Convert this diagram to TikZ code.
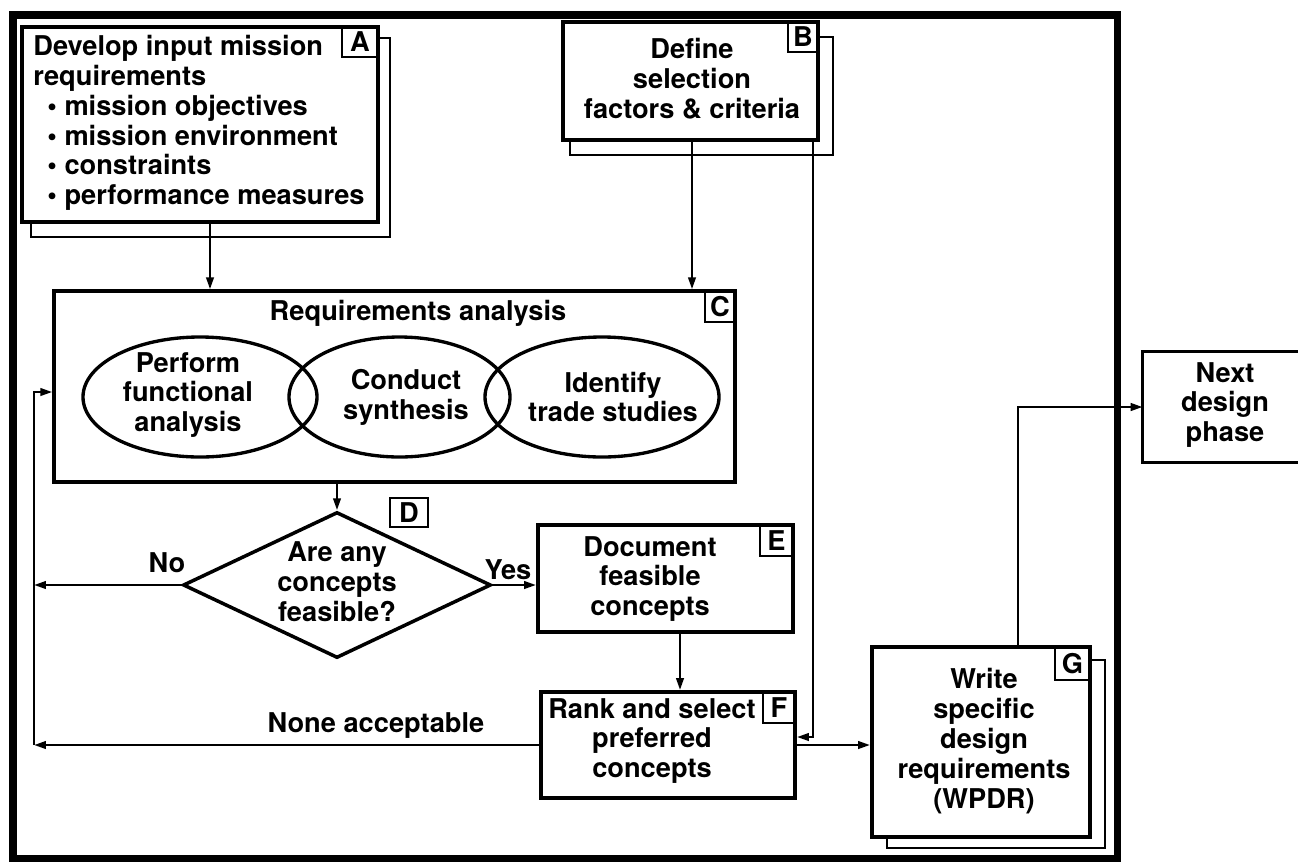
\documentclass[tikz,border=0pt]{standalone}
\usepackage{fontspec}
\setmainfont{TeX Gyre Heros}
\usetikzlibrary{arrows.meta,shapes.geometric}
\begin{document}
\begin{tikzpicture}[x=0.02cm,y=-0.02cm,
  txt/.style={font=\fontsize{15.5}{17}\selectfont\bfseries, inner sep=0pt, align=center},
  rect/.style n args={4}{rectangle, inner sep=0pt,
     minimum width={(#3-#1)*0.02cm}, minimum height={(#4-#2)*0.02cm},
     at={({(#1+#3)/2},{(#2+#4)/2})}},
  mainbox/.style={draw, line width=2.2pt, fill=white},
  shadowbox/.style={draw, line width=1.5pt},
  tag/.style={txt, draw, line width=1.1pt},
  conn/.style={line width=1.4pt},
  arr/.style={conn, -{Triangle[length=0.24cm,width=0.15cm]}},
  frame/.style={line width=4pt}
]
\useasboundingbox (0,0) rectangle (1298,863);

% outer frame
\draw[frame] (13,15) rectangle (1117,858);

% helper coordinates
\coordinate (xac) at (210,0);
\coordinate (xbc) at (692,0);
\coordinate (xbf) at (813,0);
\coordinate (fb) at (34,0);
\coordinate (xef) at (680,0);
\coordinate (xgn) at (1018,0);
\coordinate (yfb) at (0,392);
\coordinate (ybf) at (0,737);

% A
\node[shadowbox, rect={31}{38}{390}{237}] (Ash) {};
\node[mainbox, rect={22}{27}{378}{222}] (A) {};
\node[tag, rect={342}{27}{378}{57}] (tA) {A};
\node[txt, align=left, anchor=west] (Atext) at (33,123)
  {Develop input mission\\requirements\\
   \hspace*{8pt}\textbullet{} mission objectives\\
   \hspace*{8pt}\textbullet{} mission environment\\
   \hspace*{8pt}\textbullet{} constraints\\
   \hspace*{8pt}\textbullet{} performance measures};

% B
\node[shadowbox, rect={570}{37}{833}{155}] (Bsh) {};
\node[mainbox, rect={563}{22}{818}{140}] (B) {};
\node[tag, rect={788}{22}{818}{52}] (tB) {B};
\node[txt] (Btext) at (692,79) {Define\\selection\\factors \& criteria};

% C
\node[draw, line width=1.9pt, rect={54}{291}{735}{482}] (C) {};
\node[tag, rect={705}{291}{735}{322}] (tC) {C};
\node[txt] (Ctitle) at (418,313) {Requirements analysis};
\node[rect={83}{337}{317}{457}, ellipse, draw, line width=1.9pt] (e1) {};
\node[rect={289}{337}{510}{457}, ellipse, draw, line width=1.9pt] (e2) {};
\node[rect={485}{337}{719}{457}, ellipse, draw, line width=1.9pt] (e3) {};
\node[txt] (e1t) at (188,395) {Perform\\functional\\analysis};
\node[txt] (e2t) at (406,397) {Conduct\\synthesis};
\node[txt] (e3t) at (613,397) {Identify\\trade studies};

% D
\node[rect={183}{512}{491}{658}, diamond, draw, line width=2pt] (D) {};
\node[txt] (Dtext) at (337,582) {Are any\\concepts\\feasible?};
\node[tag, rect={390}{498}{428}{527}] (tD) {D};
\node[txt] (no) at (167,563) {No};
\node[txt] (yes) at (508,570) {Yes};

% E
\node[mainbox, rect={538}{525}{793}{632}] (E) {};
\node[tag, rect={760}{525}{793}{556}] (tE) {E};
\node[txt] (Etext) at (650,579) {Document\\feasible\\concepts};

% F
\node[mainbox, rect={541}{692}{795}{798}] (F) {};
\node[tag, rect={763}{692}{795}{723}] (tF) {F};
\node[txt] (Ftext) at (652,741) {Rank and select\\preferred\\concepts};
\node[txt] (none) at (376,726) {None acceptable};

% G
\node[shadowbox, rect={887}{660}{1105}{848}] (Gsh) {};
\node[mainbox, rect={872}{647}{1090}{837}] (G) {};
\node[tag, rect={1055}{647}{1090}{680}] (tG) {G};
\node[txt] (Gtext) at (984,741) {Write\\specific\\design\\requirements\\(WPDR)};

% Next design phase
\node[rect={1143}{352}{1304}{462}] (next) {};
\draw[line width=1.7pt] (next.north east) -- (next.north west) -- (next.south west) -- (next.south east);
\node[txt] (nexttext) at (1225,405) {Next\\design\\phase};

% connectors
\draw[arr] (xac |- A.south) -- (xac |- C.north);
\draw[arr] (xbc |- B.south) -- (xbc |- C.north);
\draw[arr] (xbf |- B.south) -- (xbf |- ybf) -- (F.east |- ybf);
\draw[arr] (D.north |- C.south) -- (D.north);
\draw[arr] (D.east) -- (D.east -| E.west);
\draw[arr] (D.west) -- (D.west -| fb);
\draw[arr] (xef |- E.south) -- (xef |- F.north);
\draw[arr] (F.west) -- (F.west -| fb);
\draw[arr] (F.west -| fb) -- (fb |- yfb) -- (C.west |- yfb);
\draw[arr] (F.east) -- (F.east -| G.west);
\draw[arr] (xgn |- G.north) -- (xgn |- next.west) -- (next.west);
\end{tikzpicture}
\end{document}
